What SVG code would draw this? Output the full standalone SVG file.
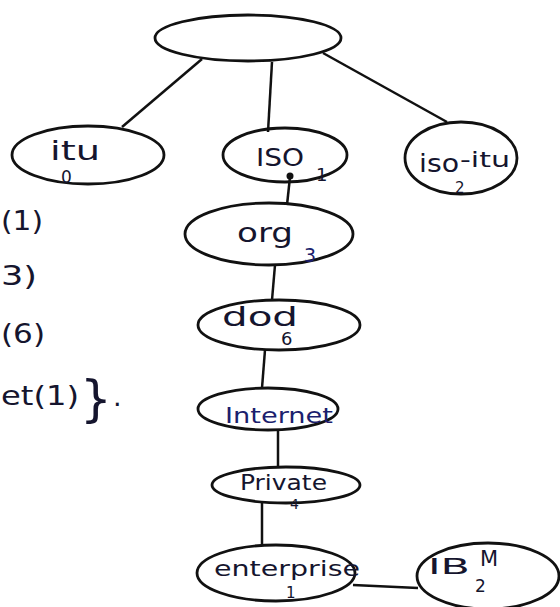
<svg xmlns="http://www.w3.org/2000/svg" width="560" height="607" viewBox="0 0 560 607">
<style>
.n{fill:none;stroke:#111;stroke-width:2.8}
.c{fill:none;stroke:#111;stroke-width:2.5}
.t{font-family:"DejaVu Sans","Liberation Sans",sans-serif;fill:#15152e}
.b{fill:#1c1f6e}
</style>
<rect width="560" height="607" fill="#fff"/>
<g id="connectors">
<path class="c" d="M202,59 L122,127"/>
<path class="c" d="M272,62 L268,132"/>
<path class="c" d="M323,53 L447,122"/>
<path class="c" d="M290,177 L287,205"/>
<path class="c" d="M275,265 L272,300"/>
<path class="c" d="M265,350 L262,388"/>
<path class="c" d="M278,430 L278,468"/>
<path class="c" d="M262,503 L262,546"/>
<path class="c" d="M353,585 L418,588"/>
<circle cx="290" cy="176" r="3.5" fill="#111"/>
</g>
<g id="root"><ellipse class="n" cx="248" cy="38" rx="93" ry="23"/></g>
<g id="itu"><ellipse class="n" cx="88" cy="155" rx="76" ry="29"/>
<text class="t" x="50" y="160" font-size="26" textLength="50" lengthAdjust="spacingAndGlyphs">itu</text>
<text class="t" x="61" y="183" font-size="17">0</text></g>
<g id="iso"><ellipse class="n" cx="285" cy="155" rx="62" ry="27"/>
<text class="t" x="256" y="166" font-size="24" textLength="48" lengthAdjust="spacingAndGlyphs">ISO</text>
<text class="t" x="316" y="181" font-size="18">1</text></g>
<g id="iso_itu"><ellipse class="n" cx="461" cy="158" rx="56" ry="36"/>
<text class="t" x="419" y="172" font-size="24" textLength="40" lengthAdjust="spacingAndGlyphs">iso</text>
<text class="t" x="460" y="167" font-size="22" textLength="50" lengthAdjust="spacingAndGlyphs">-itu</text>
<text class="t" x="455" y="193" font-size="15">2</text></g>
<g id="org"><ellipse class="n" cx="269" cy="234" rx="84" ry="31"/>
<text class="t" x="237" y="242" font-size="26" textLength="56" lengthAdjust="spacingAndGlyphs">org</text>
<text class="t b" x="304" y="262" font-size="19">3</text></g>
<g id="dod"><ellipse class="n" cx="279" cy="325" rx="81" ry="25"/>
<text class="t" x="222" y="326" font-size="26" textLength="76" lengthAdjust="spacingAndGlyphs">dod</text>
<text class="t" x="281" y="345" font-size="18">6</text></g>
<g id="internet"><ellipse class="n" cx="268" cy="409" rx="70" ry="21"/>
<text class="t b" x="225" y="423" font-size="22" textLength="108" lengthAdjust="spacingAndGlyphs">Internet</text></g>
<g id="private"><ellipse class="n" cx="286" cy="485" rx="74" ry="18"/>
<text class="t" x="240" y="490" font-size="22" textLength="87" lengthAdjust="spacingAndGlyphs">Private</text>
<text class="t" x="290" y="509" font-size="14">4</text></g>
<g id="enterprise"><ellipse class="n" cx="276" cy="573" rx="79" ry="28"/>
<text class="t" x="214" y="576" font-size="22" textLength="146" lengthAdjust="spacingAndGlyphs">enterprise</text>
<text class="t" x="286" y="598" font-size="15">1</text></g>
<g id="ibm"><ellipse class="n" cx="488" cy="576" rx="71" ry="33"/>
<text class="t" x="428" y="574" font-size="22" textLength="42" lengthAdjust="spacingAndGlyphs">IB</text>
<text class="t" x="480" y="566" font-size="21">M</text>
<text class="t" x="475" y="592" font-size="17">2</text></g>
<g id="notes" class="t" font-size="27">
<text x="1" y="230" textLength="42" lengthAdjust="spacingAndGlyphs">(1)</text>
<text x="1" y="285" textLength="36" lengthAdjust="spacingAndGlyphs">3)</text>
<text x="1" y="343" textLength="44" lengthAdjust="spacingAndGlyphs">(6)</text>
<text x="1" y="405" textLength="78" lengthAdjust="spacingAndGlyphs">et(1)</text>
<text x="80" y="416" font-size="50">}</text>
<text x="113" y="406">.</text>
</g>
</svg>
